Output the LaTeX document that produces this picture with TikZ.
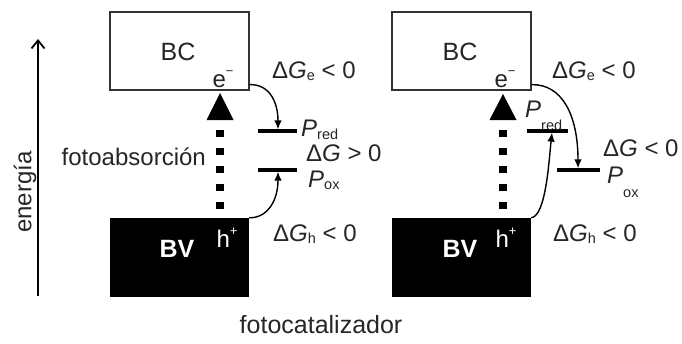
\documentclass[tikz,border=0pt]{standalone}
\usepackage{fontspec}
\setmainfont{Liberation Sans}
\usetikzlibrary{arrows.meta}
\newcommand\lsub[2][0.25em]{\raisebox{-#1}[\height][0pt]{\fontsize{14.5}{15}\selectfont #2}}
\newcommand\lsup[1]{\raisebox{0.5em}{\fontsize{13}{13}\selectfont #1}}
\begin{document}
\begin{tikzpicture}[x=1pt,y=-1pt,
  lbl/.style={font=\fontsize{24}{26}\selectfont, text=black!85, inner sep=0pt},
  band/.style={font=\fontsize{25}{27}\selectfont, text=black!85, inner sep=0pt},
  bcbox/.style={draw=black!80, line width=1.3pt, fill=white, minimum width=139pt, minimum height=78pt, inner sep=0pt},
  bvbox/.style={fill=black, minimum width=139pt, minimum height=79pt, inner sep=0pt},
  level/.style={line width=3.5pt},
  trans/.style={line width=1.4pt, -{Latex[length=9pt,width=7.5pt]}},
  photo/.style={line width=8pt, dash pattern=on 7pt off 11pt},
  enarrow/.style={line width=1.8pt, -{Straight Barb[length=8pt,width=13pt]}},
]
\useasboundingbox (0,0) rectangle (682,343);

% energy axis
\coordinate (en0) at (38,296);
\coordinate (en1) at (38,39);
\draw[enarrow] (en0) -- (en1);
\node[lbl, rotate=90] (energia) at (25,192) {energía};

% ---------- left panel ----------
\node[bcbox] (bc1) at (179.5,51) {};
\node[bvbox] (bv1) at (179.5,257.5) {};
\node[band] (bct1) at (178,52) {BC};
\node[band, text=white, font=\fontsize{25}{27}\selectfont\bfseries] (bvt1) at (177,249) {BV};
\node[lbl, anchor=base] (e1) at (223,87) {e\lsup{−}};
\node[lbl, text=white, anchor=base] (h1) at (227,247) {h\lsup{+}};

\coordinate (ph1a) at (220,209);
\coordinate (ph1b) at (220,130);
\draw[photo] (ph1a) -- (ph1b);
\coordinate (tip1) at (220,93);
\fill (tip1) -- ++(13.5,27) -- ++(-27,0) -- cycle;
\node[lbl, anchor=east] (abs1) at (206,157) {fotoabsorción};

\coordinate (pr1a) at (258,131);
\coordinate (pr1b) at (297,131);
\coordinate (pr1) at (278,131);
\draw[level] (pr1a) -- (pr1b);
\coordinate (po1a) at (258,170);
\coordinate (po1b) at (297,170);
\coordinate (po1) at (278,170);
\draw[level] (po1a) -- (po1b);

\draw[trans] ([yshift=6pt]bc1.south east) .. controls (268,84) and (278,100) .. ([yshift=1.6pt]pr1);
\draw[trans] (bv1.north east) .. controls (268,218) and (278,200) .. ([yshift=-1.6pt]po1);

\node[lbl, anchor=base west] (dge1) at (272,78) {Δ\textit{G}\lsub[0.1em]{e} < 0};
\node[lbl, anchor=base west] (prl1) at (301,136) {\textit{P}\lsub[0.15em]{red}};
\node[lbl, anchor=base west] (dg1) at (306,161) {Δ\textit{G} > 0};
\node[lbl, anchor=base west] (pol1) at (308,187) {\textit{P}\lsub[0.1em]{ox}};
\node[lbl, anchor=base west] (dgh1) at (273,241) {Δ\textit{G}\lsub[0.1em]{h} < 0};

% ---------- right panel ----------
\node[bcbox] (bc2) at (461.5,51) {};
\node[bvbox] (bv2) at (461.5,257.5) {};
\node[band] (bct2) at (460,52) {BC};
\node[band, text=white, font=\fontsize{25}{27}\selectfont\bfseries] (bvt2) at (460,249) {BV};
\node[lbl, anchor=base] (e2) at (505,87) {e\lsup{−}};
\node[lbl, text=white, anchor=base] (h2) at (506,247) {h\lsup{+}};

\coordinate (ph2a) at (503,209);
\coordinate (ph2b) at (503,130);
\draw[photo] (ph2a) -- (ph2b);
\coordinate (tip2) at (503,94);
\fill (tip2) -- ++(13.5,26) -- ++(-27,0) -- cycle;

\coordinate (pr2a) at (527,131);
\coordinate (pr2b) at (568,131);
\coordinate (pr2) at (552,131);
\draw[level] (pr2a) -- (pr2b);
\coordinate (po2a) at (557,170);
\coordinate (po2b) at (600,170);
\coordinate (po2) at (578,170);
\draw[level] (po2a) -- (po2b);

\draw[trans] ([yshift=6pt]bc2.south east) .. controls (562,84) and (578,115) .. ([yshift=1.6pt]po2);
\draw[trans] (bv2.north east) .. controls (546,216) and (549,160) .. ([yshift=-1.6pt]pr2);

\node[lbl, anchor=base west] (dge2) at (552,78) {Δ\textit{G}\lsub[0.1em]{e} < 0};
\node[lbl, anchor=base west] (prl2) at (525,117) {\textit{P}\lsub[0.55em]{red}};
\node[lbl, anchor=base west] (dg2) at (603,156) {Δ\textit{G} < 0};
\node[lbl, anchor=base west] (pol2) at (607,183) {\textit{P}\lsub[0.6em]{ox}};
\node[lbl, anchor=base west] (dgh2) at (553,241) {Δ\textit{G}\lsub[0.1em]{h} < 0};

% caption
\node[lbl, anchor=base, font=\fontsize{25}{27}\selectfont] (cap) at (321,333) {fotocatalizador};
\end{tikzpicture}
\end{document}
